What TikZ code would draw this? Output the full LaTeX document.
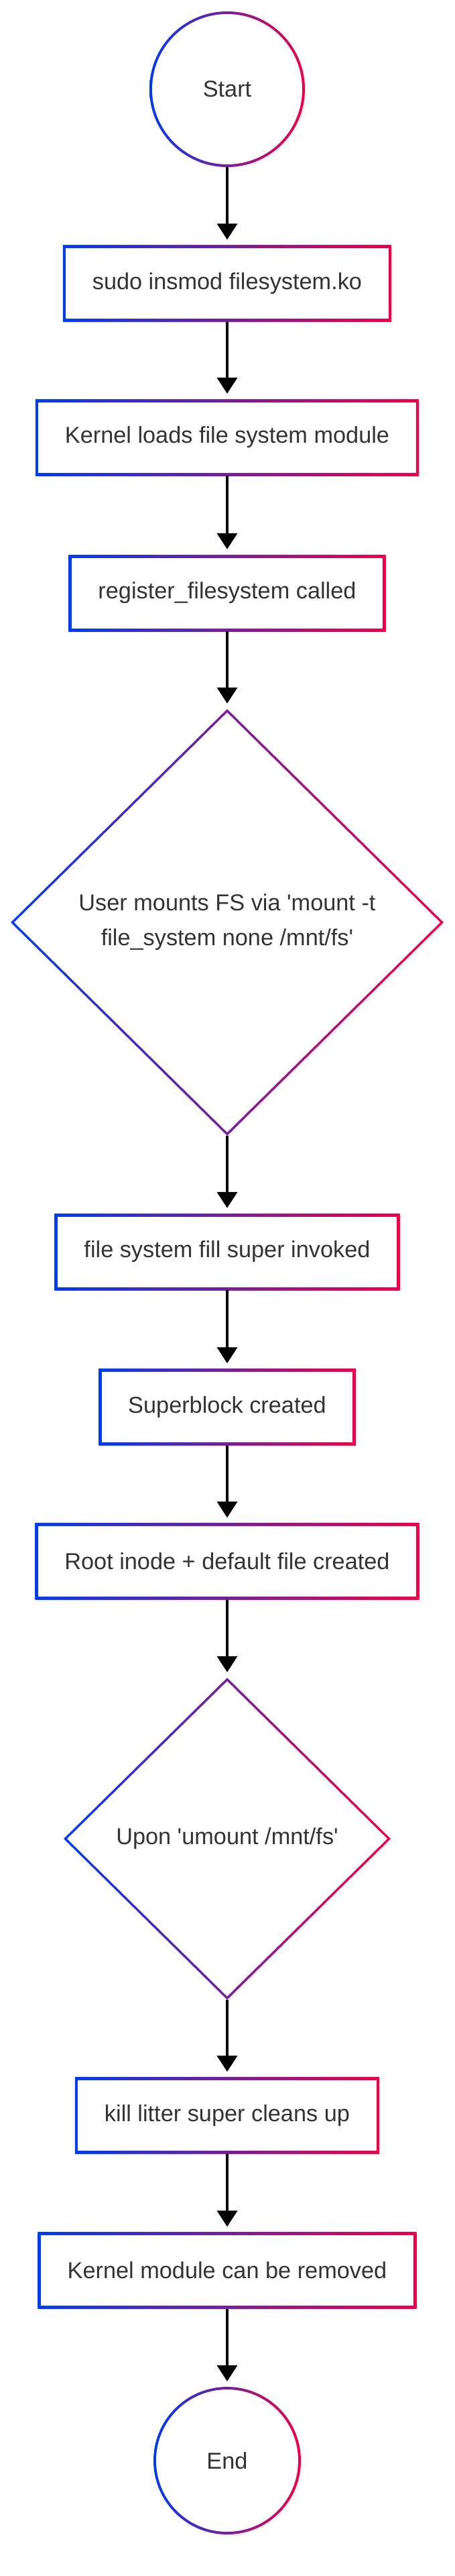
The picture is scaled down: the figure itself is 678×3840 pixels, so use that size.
\documentclass[tikz,border=0pt]{standalone}
\usepackage{fontspec}
\setmainfont{Liberation Sans}
\usetikzlibrary{arrows.meta,shapes.geometric,shadows}
\definecolor{gblue}{RGB}{0,60,240}
\definecolor{gred}{RGB}{240,0,72}
\definecolor{labelgray}{RGB}{51,51,51}
\tikzset{
  flownode/.style={left color=gblue, right color=gred, text=labelgray,
    font=\fontsize{34.3pt}{52pt}\selectfont, align=center,
    drop shadow={opacity=0.12, shadow xshift=2pt, shadow yshift=-2pt}},
  stepbox/.style={flownode, rectangle, minimum height=114pt,
    inner xsep=44pt, inner ysep=0pt,
    path picture={\fill[white]
      ([xshift=4.5pt,yshift=-4.5pt]path picture bounding box.north west) rectangle
      ([xshift=-4.5pt,yshift=4.5pt]path picture bounding box.south east);}},
  terminal/.style={flownode, circle, inner sep=0pt, minimum size=#1,
    path picture={\fill[white] (path picture bounding box.center)
      circle[radius=#1/2-4pt];}},
  decision/.style 2 args={flownode, diamond, inner sep=0pt,
    minimum width=#1, minimum height=#2,
    path picture={\fill[white]
      ([yshift=-5pt]path picture bounding box.north) --
      ([xshift=-5pt]path picture bounding box.east) --
      ([yshift=5pt]path picture bounding box.south) --
      ([xshift=5pt]path picture bounding box.west) -- cycle;}}
}
\begin{document}
\begin{tikzpicture}[x=1pt,y=-1pt]
  \path[use as bounding box, fill=white] (0,0) rectangle (678,3840);
  \path
    (339,133) node[terminal=232pt] (start) {Start}
    (339,422.5) node[stepbox] (insmod) {sudo insmod filesystem.ko}
    (339,652) node[stepbox] (loads) {Kernel loads file system module}
    (339,884) node[stepbox] (register) {register\_filesystem called}
    (339,1375) node[decision={646pt}{636pt}] (mount)
      {User mounts FS via \textquotesingle mount -t\\file\_system none /mnt/fs\textquotesingle}
    (339,1866) node[stepbox] (fillsuper) {file system fill super invoked}
    (339,2097.5) node[stepbox] (superblock) {Superblock created}
    (339,2327.5) node[stepbox] (rootinode) {Root inode + default file created}
    (339,2741) node[decision={488pt}{480pt}] (umount)
      {Upon \textquotesingle umount /mnt/fs\textquotesingle}
    (339,3153.5) node[stepbox] (killsuper) {kill litter super cleans up}
    (339,3384.5) node[stepbox] (removed) {Kernel module can be removed}
    (339,3668) node[terminal=220pt] (end) {End};
  \begin{scope}[-{Triangle[width=30pt,length=24pt]}, line width=4pt, shorten >=8pt]
    \draw (start) to (insmod);
    \draw (insmod) to (loads);
    \draw (loads) to (register);
    \draw (register) to (mount);
    \draw (mount) to (fillsuper);
    \draw (fillsuper) to (superblock);
    \draw (superblock) to (rootinode);
    \draw (rootinode) to (umount);
    \draw (umount) to (killsuper);
    \draw (killsuper) to (removed);
    \draw (removed) to (end);
  \end{scope}
\end{tikzpicture}
\end{document}
